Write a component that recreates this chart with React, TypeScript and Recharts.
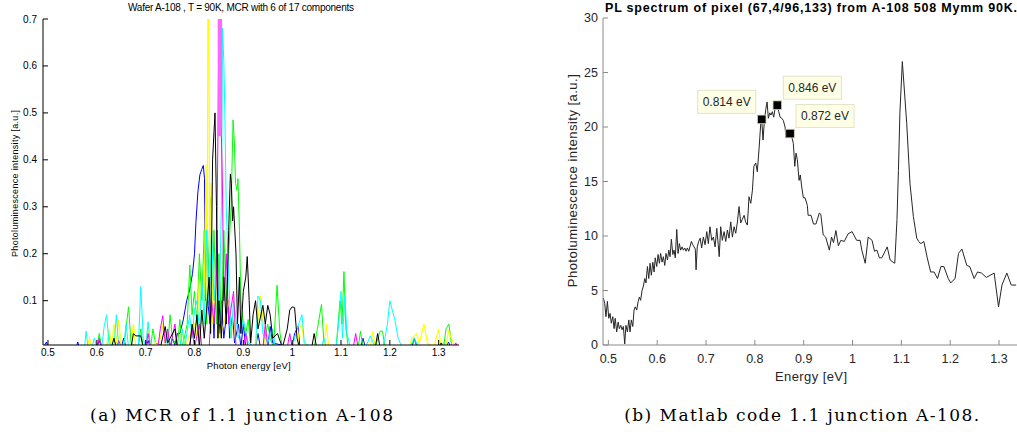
import React from 'react';
import { LineChart, Line, XAxis, YAxis, ComposedChart, Scatter } from 'recharts';

type Pt = [number, number];

// ---------- shared tick values ----------
const energyTicks = [0.5, 0.6, 0.7, 0.8, 0.9, 1.0, 1.1, 1.2, 1.3];
const mcrTicks = [0.1, 0.2, 0.3, 0.4, 0.5, 0.6, 0.7];
const plTicks = [0, 5, 10, 15, 20, 25, 30];

// ---------- (a) MCR components: [energy eV, intensity a.u.] ----------
const mcrBlue: Pt[] = [
  [0.49, 0], [0.497, 0.012], [0.5, 0], [0.558, 0], [0.561, 0.012], [0.564, 0],
  [0.6, 0], [0.605, 0.015], [0.61, 0], [0.65, 0], [0.655, 0.02], [0.66, 0], [0.7, 0], [0.705, 0.015], [0.71, 0],
  [0.75, 0], [0.755, 0.02], [0.76, 0.005], [0.765, 0.03], [0.77, 0.03], [0.777, 0.059], [0.784, 0.1], [0.79, 0.123],
  [0.796, 0.158], [0.8, 0.2], [0.803, 0.268], [0.807, 0.332], [0.811, 0.368], [0.815, 0.38], [0.818, 0.388],
  [0.8205, 0.36], [0.822, 0.1], [0.826, 0.29], [0.828, 0.09], [0.832, 0.05], [0.836, 0.12], [0.84, 0.02],
  [0.846, 0.25], [0.85, 0.03], [0.855, 0.1], [0.86, 0.02], [0.869, 0.1], [0.872, 0.02], [0.878, 0.07], [0.882, 0.01],
  [0.89, 0.05], [0.895, 0], [0.9, 0.05], [0.905, 0], [0.925, 0], [0.93, 0.03], [0.935, 0], [0.95, 0], [0.955, 0.045],
  [0.96, 0.01], [1.0, 0], [1.005, 0.03], [1.012, 0.045], [1.016, 0], [1.14, 0], [1.145, 0.02], [1.15, 0],
  [1.245, 0], [1.25, 0.02], [1.256, 0], [1.315, 0], [1.32, 0.012], [1.325, 0],
];

const mcrYellow: Pt[] = [
  [0.58, 0], [0.585, 0.02], [0.59, 0], [0.62, 0], [0.625, 0.04], [0.63, 0], [0.635, 0.05], [0.64, 0.01], [0.645, 0.06],
  [0.65, 0], [0.67, 0], [0.675, 0.05], [0.68, 0], [0.7, 0], [0.705, 0.045], [0.71, 0], [0.73, 0.02], [0.735, 0.05],
  [0.74, 0], [0.77, 0], [0.775, 0.04], [0.78, 0], [0.8, 0.05], [0.805, 0.02], [0.81, 0.15], [0.815, 0.05], [0.82, 0.1],
  [0.8235, 0.39], [0.826, 0.1], [0.8285, 1.2], [0.831, 0.15], [0.834, 0.35], [0.837, 0.05], [0.845, 0.15], [0.85, 0.02],
  [0.86, 0.05], [0.87, 0.1], [0.875, 0.02], [0.88, 0.08], [0.885, 0], [0.925, 0], [0.93, 0.06], [0.935, 0.11],
  [0.94, 0.06], [0.945, 0], [1.01, 0], [1.015, 0.04], [1.02, 0.05], [1.025, 0], [1.065, 0], [1.07, 0.05], [1.075, 0],
  [1.16, 0], [1.165, 0.035], [1.17, 0], [1.24, 0], [1.245, 0.02], [1.255, 0.03], [1.26, 0.01], [1.27, 0.05],
  [1.277, 0.01], [1.29, 0], [1.3, 0.04], [1.305, 0], [1.315, 0], [1.32, 0.035], [1.33, 0.01], [1.34, 0],
];

const mcrMagenta: Pt[] = [
  [0.6, 0], [0.605, 0.02], [0.61, 0], [0.64, 0], [0.645, 0.015], [0.65, 0], [0.7, 0], [0.705, 0.03], [0.71, 0],
  [0.725, 0], [0.73, 0.04], [0.735, 0.068], [0.74, 0.01], [0.745, 0.04], [0.75, 0], [0.76, 0.05], [0.765, 0],
  [0.79, 0], [0.795, 0.04], [0.8, 0], [0.81, 0.05], [0.815, 0], [0.83, 0], [0.835, 0.1], [0.84, 0.05], [0.845, 0.15],
  [0.848, 0.45], [0.85, 0.7], [0.857, 0.36], [0.86, 0.1], [0.865, 0.2], [0.87, 0.05], [0.88, 0.12], [0.885, 0],
  [0.9, 0], [0.905, 0.03], [0.91, 0], [0.94, 0], [0.945, 0.05], [0.95, 0], [0.99, 0], [0.995, 0.03], [1.0, 0],
  [1.125, 0], [1.13, 0.03], [1.135, 0], [1.33, 0], [1.335, 0.01], [1.34, 0],
];

const mcrMagentaPeak: Pt[] = [[0.8515, 0.45], [0.852, 1.5], [0.8525, 0.47]];

const mcrCyan: Pt[] = [
  [0.56, 0], [0.575, 0], [0.578, 0.035], [0.582, 0], [0.59, 0], [0.595, 0.02], [0.6, 0], [0.61, 0], [0.615, 0.045],
  [0.62, 0.07], [0.625, 0.01], [0.635, 0], [0.64, 0.07], [0.645, 0], [0.655, 0], [0.66, 0.05], [0.665, 0],
  [0.685, 0], [0.69, 0.13], [0.695, 0.02], [0.7, 0], [0.705, 0.055], [0.71, 0], [0.74, 0], [0.745, 0.03], [0.75, 0],
  [0.77, 0], [0.775, 0.04], [0.78, 0], [0.79, 0.07], [0.795, 0.02], [0.8, 0.08], [0.805, 0.1], [0.81, 0.04],
  [0.815, 0.15], [0.82, 0.05], [0.825, 0.25], [0.83, 0.1], [0.835, 0.25], [0.84, 0.1], [0.845, 0.2], [0.85, 0.05],
  [0.855, 0.3], [0.8575, 0.68], [0.86, 0.61], [0.862, 0.51], [0.865, 0.3], [0.87, 0.15], [0.875, 0.02], [0.88, 0.1],
  [0.89, 0.02], [0.9, 0.06], [0.91, 0.01], [0.925, 0], [0.93, 0.11], [0.935, 0.1], [0.94, 0.03], [0.95, 0.01],
  [0.96, 0.04], [0.965, 0], [1.0, 0], [1.01, 0.04], [1.02, 0.07], [1.025, 0.01], [1.04, 0], [1.06, 0], [1.065, 0.02],
  [1.07, 0], [1.09, 0], [1.095, 0.05], [1.1, 0.12], [1.103, 0.02], [1.108, 0.11], [1.112, 0.03], [1.12, 0],
  [1.15, 0], [1.16, 0.025], [1.17, 0], [1.185, 0], [1.19, 0.02], [1.195, 0.05], [1.2, 0.1], [1.21, 0.06],
  [1.217, 0.02], [1.225, 0], [1.24, 0], [1.25, 0.02], [1.26, 0], [1.3, 0], [1.31, 0.01], [1.32, 0],
];

const mcrBlack: Pt[] = [
  [0.63, 0], [0.635, 0.02], [0.64, 0], [0.67, 0], [0.675, 0.03], [0.68, 0.025], [0.69, 0.025], [0.695, 0],
  [0.73, 0], [0.74, 0.045], [0.745, 0.01], [0.76, 0.04], [0.765, 0], [0.79, 0], [0.795, 0.05], [0.8, 0.02],
  [0.805, 0.07], [0.81, 0], [0.815, 0.08], [0.82, 0.02], [0.83, 0.15], [0.833, 0.03], [0.837, 0.4], [0.84, 0.46],
  [0.842, 0.5], [0.845, 0.3], [0.848, 0.02], [0.85, 0.1], [0.855, 0.02], [0.86, 0.15], [0.865, 0.05], [0.87, 0.25],
  [0.8735, 0.37], [0.8755, 0.35], [0.878, 0.27], [0.88, 0.3], [0.885, 0.2], [0.888, 0.05], [0.892, 0.15],
  [0.895, 0.03], [0.9, 0.12], [0.905, 0.15], [0.908, 0.194], [0.912, 0.1], [0.915, 0.01], [0.92, 0.07], [0.925, 0.1],
  [0.93, 0.04], [0.94, 0.09], [0.945, 0.05], [0.95, 0.09], [0.955, 0.07], [0.96, 0.02], [0.97, 0.03], [0.98, 0],
  [0.99, 0.04], [0.995, 0.08], [1.0, 0.087], [1.005, 0.085], [1.01, 0.02], [1.015, 0], [1.04, 0], [1.045, 0.03],
  [1.05, 0], [1.17, 0], [1.175, 0.03], [1.18, 0], [1.3, 0], [1.305, 0.01], [1.31, 0],
];

const mcrGreen: Pt[] = [
  [0.58, 0], [0.6, 0], [0.605, 0.03], [0.61, 0], [0.62, 0], [0.625, 0.03], [0.63, 0], [0.655, 0], [0.665, 0.087],
  [0.67, 0.01], [0.685, 0], [0.69, 0.04], [0.695, 0], [0.71, 0], [0.715, 0.04], [0.72, 0.01], [0.745, 0], [0.75, 0.07],
  [0.755, 0.02], [0.765, 0], [0.77, 0.06], [0.775, 0], [0.785, 0.05], [0.7905, 0.176], [0.795, 0.07], [0.8, 0.12],
  [0.805, 0.05], [0.81, 0.2], [0.815, 0.1], [0.82, 0.25], [0.825, 0.05], [0.83, 0.22], [0.833, 0.32], [0.836, 0.1],
  [0.84, 0.25], [0.845, 0.05], [0.85, 0.2], [0.855, 0.05], [0.86, 0.25], [0.865, 0.1], [0.87, 0.2], [0.875, 0.3],
  [0.879, 0.485], [0.8815, 0.44], [0.884, 0.35], [0.887, 0.335], [0.889, 0.36], [0.892, 0.25], [0.895, 0.1],
  [0.9, 0.05], [0.905, 0.03], [0.91, 0.06], [0.915, 0], [0.94, 0], [0.95, 0.05], [0.955, 0.02], [0.962, 0],
  [0.969, 0.133], [0.975, 0.03], [0.98, 0], [1.045, 0], [1.05, 0.03], [1.06, 0.092], [1.065, 0.01], [1.07, 0],
  [1.09, 0], [1.098, 0.1], [1.102, 0.05], [1.106, 0.162], [1.11, 0.04], [1.115, 0], [1.135, 0], [1.14, 0.035],
  [1.145, 0], [1.17, 0], [1.18, 0.035], [1.185, 0.035], [1.19, 0], [1.24, 0], [1.25, 0.015], [1.26, 0], [1.31, 0],
  [1.315, 0.04], [1.321, 0.05], [1.327, 0],
];

// ---------- (b) PL spectrum: [energy eV, intensity a.u.] ----------
const plSpectrum: Pt[] = [
  [0.4898, 4.3], [0.4926, 3.8], [0.495, 2.6], [0.498, 4.0], [0.5008, 2.45], [0.5035, 2.9], [0.506, 2.0], [0.509, 2.6],
  [0.5117, 1.5], [0.514, 2.45], [0.517, 1.2], [0.52, 2.1], [0.5225, 1.5], [0.5254, 1.8], [0.528, 1.4], [0.5307, 1.7],
  [0.5335, 0.1], [0.536, 1.8], [0.539, 1.2], [0.5418, 2.3], [0.5444, 1.2], [0.547, 2.3], [0.55, 1.7], [0.5526, 3.2],
  [0.555, 3.5], [0.558, 3.2], [0.561, 4.0], [0.5635, 4.4], [0.566, 4.1], [0.569, 5.0], [0.5717, 5.4], [0.5745, 6.1],
  [0.577, 5.7], [0.58, 7.2], [0.5827, 6.1], [0.5854, 7.5], [0.588, 6.4], [0.591, 7.6], [0.5936, 6.7], [0.596, 8.0],
  [0.599, 7.2], [0.6018, 8.3], [0.6045, 7.5], [0.607, 8.4], [0.61, 7.6], [0.6126, 8.1], [0.6155, 7.3], [0.618, 8.4],
  [0.621, 7.8], [0.6237, 8.7], [0.6263, 8.1], [0.629, 9.7], [0.632, 8.3], [0.6345, 8.7], [0.637, 8.0], [0.64, 10.6],
  [0.6427, 8.4], [0.6454, 9.3], [0.648, 8.7], [0.651, 9.0], [0.6536, 8.7], [0.6564, 8.9], [0.659, 8.6], [0.6618, 8.9],
  [0.6646, 8.6], [0.667, 9.0], [0.67, 9.5], [0.6728, 9.2], [0.6755, 9.0], [0.678, 8.8], [0.6796, 6.9], [0.682, 9.0],
  [0.685, 9.5], [0.688, 9.8], [0.691, 8.9], [0.6945, 9.9], [0.698, 9.2], [0.7015, 10.4], [0.7047, 9.3], [0.708, 10.85],
  [0.7117, 9.6], [0.715, 9.9], [0.7185, 9.0], [0.722, 10.7], [0.725, 9.2], [0.727, 8.1], [0.73, 10.85], [0.7334, 9.6],
  [0.737, 10.4], [0.7404, 9.5], [0.7437, 10.55], [0.747, 9.8], [0.7506, 11.3], [0.754, 9.9], [0.7574, 10.85],
  [0.7608, 10.25], [0.764, 11.2], [0.7676, 12.7], [0.771, 11.2], [0.774, 11.5], [0.778, 11.9], [0.781, 11.3],
  [0.7846, 11.0], [0.788, 13.6], [0.7916, 13.0], [0.795, 14.2], [0.798, 16.4], [0.8018, 16.7], [0.805, 15.9],
  [0.8086, 18.0], [0.812, 20.3], [0.814, 20.7], [0.8167, 18.8], [0.8194, 20.5], [0.8223, 21.6], [0.825, 22.3],
  [0.8276, 20.8], [0.8305, 21.3], [0.833, 21.1], [0.8358, 21.4], [0.8386, 20.9], [0.841, 21.6], [0.846, 22.0],
  [0.849, 21.4], [0.8516, 20.9], [0.855, 20.8], [0.8583, 20.6], [0.8618, 20.0], [0.8638, 19.0], [0.8665, 19.7],
  [0.872, 19.4], [0.8755, 19.1], [0.8788, 18.5], [0.8817, 16.4], [0.8843, 17.6], [0.887, 17.0], [0.8905, 15.1],
  [0.893, 15.6], [0.896, 14.5], [0.8993, 13.5], [0.9028, 13.5], [0.9075, 12.8], [0.909, 11.9], [0.915, 11.9],
  [0.92, 11.1], [0.925, 11.1], [0.932, 12.1], [0.935, 12.0], [0.94, 10.1], [0.945, 9.9], [0.9525, 8.7], [0.957, 9.9],
  [0.961, 9.4], [0.966, 10.5], [0.971, 9.1], [0.976, 9.6], [0.983, 9.5], [0.991, 10.2], [0.999, 10.4], [1.0085, 9.6],
  [1.0155, 9.6], [1.019, 8.7], [1.026, 7.5], [1.032, 9.9], [1.04, 9.6], [1.045, 8.6], [1.05, 8.7], [1.055, 8.0],
  [1.06, 8.0], [1.071, 9.0], [1.077, 7.8], [1.083, 7.6], [1.0865, 7.5], [1.091, 11.5], [1.094, 16.0], [1.097, 21.3],
  [1.102, 26.0], [1.111, 20.3], [1.1177, 14.8], [1.1245, 11.8], [1.1315, 9.8], [1.1355, 9.5], [1.14, 9.3],
  [1.146, 9.5], [1.153, 8.0], [1.16, 6.7], [1.167, 6.7], [1.174, 6.1], [1.181, 7.2], [1.187, 7.2], [1.196, 6.1],
  [1.201, 5.7], [1.21, 6.1], [1.217, 8.4], [1.224, 8.8], [1.234, 7.3], [1.24, 7.2], [1.249, 6.1], [1.256, 6.7],
  [1.264, 6.6], [1.274, 6.2], [1.29, 6.6], [1.299, 3.5], [1.306, 5.5], [1.316, 6.6], [1.325, 5.5], [1.335, 5.5],
];

const plPeaks: Pt[] = [[0.814, 20.7], [0.846, 22.0], [0.872, 19.4]];
const plPeakLabels = ['0.814 eV', '0.846 eV', '0.872 eV'];

// ---------- helpers ----------
const toPts = (arr: Pt[]) => arr.map(([x, y]) => ({ x, y }));
const fmtE = (v: number) => String(Number(v.toFixed(2)));

const mcrSeries = [
  { key: 'blue', data: mcrBlue, color: '#0000ff', w: 1 },
  { key: 'green', data: mcrGreen, color: '#00ff00', w: 1 },
  { key: 'yellow', data: mcrYellow, color: '#ffff00', w: 1.2 },
  { key: 'cyan', data: mcrCyan, color: '#00ffff', w: 1 },
  { key: 'magenta', data: mcrMagenta, color: '#ff00ff', w: 1 },
  { key: 'magentaPeak', data: mcrMagentaPeak, color: '#ff66ff', w: 4 },
  { key: 'black', data: mcrBlack, color: '#000000', w: 1 },
];

const SANS = '"Liberation Sans", Arial, Helvetica, sans-serif';
const SERIF = '"DejaVu Serif", serif';

const PeakMarker = (props: any) => {
  const { cx, cy, index } = props;
  if (cx == null || cy == null) return null;
  const left = index === 0;
  const bw = 58;
  const bh = 23;
  const bx = left ? cx - 6 - bw : cx + 6;
  const by = cy - 6 - bh;
  return (
    <g>
      <rect x={bx} y={by} width={bw} height={bh} fill="#ffffe6" stroke="#e3e3c6" strokeWidth={1} />
      <text x={bx + bw / 2} y={by + bh / 2 + 4.3} textAnchor="middle" fontSize={12} fontFamily={SANS} fill="#262626">
        {plPeakLabels[index]}
      </text>
      <rect x={cx - 4.3} y={cy - 4.3} width={8.6} height={8.6} fill="#000" stroke="#d6d6a8" strokeWidth={0.8} />
    </g>
  );
};

const hiddenTick = () => null;

export default function App() {
  return (
    <div style={{ position: 'relative', width: 1017, height: 432, background: '#fff', overflow: 'hidden' }}>
      <style>{'body{margin:0;background:#fff}'}</style>

      {/* (a) MCR plot */}
      <div style={{ position: 'absolute', left: 0, top: 0 }}>
        <LineChart width={470} height={380} margin={{ top: 19, right: 11, left: 0, bottom: 5 }}>
          <XAxis
            xAxisId="b" type="number" dataKey="x" domain={[0.4898, 1.3416]} allowDataOverflow
            ticks={energyTicks} interval={0} tickFormatter={fmtE} tickSize={-5} tickMargin={9} height={30}
            stroke="#000" tick={{ fontSize: 10, fill: '#000', fontFamily: SANS }}
          />
          <XAxis
            xAxisId="t" orientation="top" type="number" dataKey="x" domain={[0.4898, 1.3416]} allowDataOverflow
            ticks={energyTicks} interval={0} tickSize={-5} height={0} stroke="#000" tick={hiddenTick}
          />
          <YAxis
            yAxisId="l" type="number" domain={[0.0056, 0.7]} allowDataOverflow ticks={mcrTicks} interval={0}
            width={43} tickSize={-5} tickMargin={11} stroke="#000"
            tick={{ fontSize: 10, fill: '#000', fontFamily: SANS }}
          />
          <YAxis
            yAxisId="r" orientation="right" type="number" domain={[0.0056, 0.7]} allowDataOverflow ticks={mcrTicks}
            interval={0} width={0} tickSize={-5} stroke="#000" tick={hiddenTick}
          />
          {mcrSeries.map((s) => (
            <Line
              key={s.key} xAxisId="b" yAxisId="l" data={toPts(s.data)} dataKey="y" type="linear"
              stroke={s.color} strokeWidth={s.w} dot={false} activeDot={false} isAnimationActive={false}
            />
          ))}
        </LineChart>
      </div>

      {/* (b) PL spectrum */}
      <div style={{ position: 'absolute', left: 540, top: 0 }}>
        <ComposedChart width={477} height={400} margin={{ top: 18, right: 0, left: 0, bottom: 15 }}>
          <XAxis
            type="number" dataKey="x" domain={[0.489, 1.3368]} allowDataOverflow ticks={energyTicks} interval={0}
            tickFormatter={fmtE} tickSize={-5} tickMargin={14.5} height={40} stroke="#8a8a8a"
            tick={{ fontSize: 12.5, fill: '#262626', fontFamily: SANS }}
          />
          <YAxis
            type="number" domain={[0, 30]} allowDataOverflow ticks={plTicks} interval={0} width={63}
            tickSize={-5} tickMargin={10} stroke="#8a8a8a"
            tick={{ fontSize: 12.5, fill: '#262626', fontFamily: SANS }}
          />
          <Line
            data={toPts(plSpectrum)} dataKey="y" type="linear" stroke="#262626" strokeWidth={1}
            dot={false} activeDot={false} isAnimationActive={false}
          />
          <Scatter data={toPts(plPeaks)} dataKey="y" shape={PeakMarker} isAnimationActive={false} />
        </ComposedChart>
      </div>

      {/* titles, axis labels, captions */}
      <svg width={1017} height={432} style={{ position: 'absolute', left: 0, top: 0, pointerEvents: 'none' }}>
        <text x={241} y={10.5} textAnchor="middle" fontSize={10} fontFamily={SANS} fill="#000" textLength={226} lengthAdjust="spacing">
          Wafer A-108 , T = 90K, MCR with 6 of 17 components
        </text>
        <text x={15} y={183.5} transform="rotate(-90 15 183.5)" textAnchor="middle" dominantBaseline="central" fontSize={9} fontFamily={SANS} fill="#000" textLength={147} lengthAdjust="spacing">
          Photoluminescence intensity [a.u.]
        </text>
        <text x={248.7} y={369} textAnchor="middle" fontSize={9.5} fontFamily={SANS} fill="#000" textLength={84} lengthAdjust="spacing">
          Photon energy [eV]
        </text>
        <text x={241.5} y={420.5} textAnchor="middle" fontSize={17} fontFamily={SERIF} fill="#000" textLength={303} lengthAdjust="spacing">
          (a) MCR of 1.1 junction A-108
        </text>

        <text x={811} y={12} textAnchor="middle" fontSize={12.5} fontWeight="bold" fontFamily={SANS} fill="#000" textLength={412} lengthAdjust="spacing">
          PL spectrum of pixel (67,4/96,133) from A-108 508 Mymm 90K.
        </text>
        <text x={572.5} y={180.7} transform="rotate(-90 572.5 180.7)" textAnchor="middle" dominantBaseline="central" fontSize={13} fontFamily={SANS} fill="#262626" textLength={213} lengthAdjust="spacing">
          Photoluminescence intensity [a.u.]
        </text>
        <text x={811} y={381} textAnchor="middle" fontSize={13} fontFamily={SANS} fill="#262626" textLength={72} lengthAdjust="spacing">
          Energy [eV]
        </text>
        <text x={801.7} y={420.5} textAnchor="middle" fontSize={17} fontFamily={SERIF} fill="#000" textLength={355} lengthAdjust="spacing">
          (b) Matlab code 1.1 junction A-108.
        </text>
      </svg>
    </div>
  );
}
